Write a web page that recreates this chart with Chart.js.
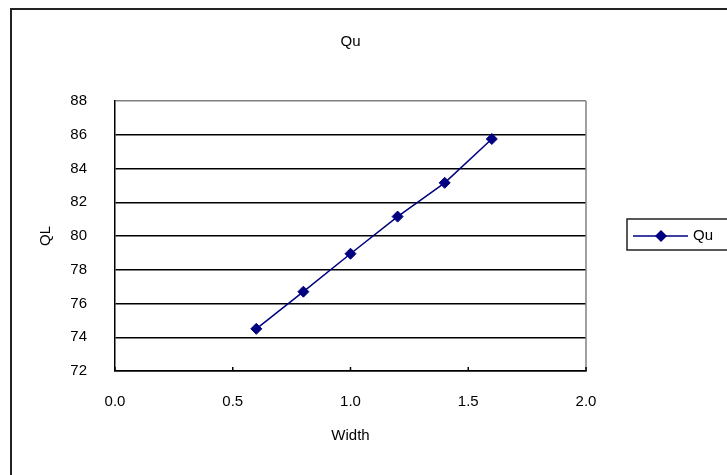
<!DOCTYPE html>
<html>
<head>
<meta charset="utf-8">
<script src="https://cdn.jsdelivr.net/npm/chart.js@4"></script>
<style>
    html, body { margin: 0; padding: 0; background: #fff; }
    #wrap { position: relative; width: 727px; height: 475px; overflow: hidden; }
</style>
</head>
<body>
<div id="wrap"><canvas id="chartCanvas" width="727" height="475"></canvas></div>
<script>
// Data
var widths = [0.6, 0.8, 1.0, 1.2, 1.4, 1.6];
var quValues = [74.5, 76.7, 78.95, 81.15, 83.15, 85.75];
var seriesName = 'Qu';
var chartTitle = 'Qu';
var xTitle = 'Width';
var yTitle = 'QL';

var navy = '#000080';
var fontFamily = '"Liberation Sans", Arial, sans-serif';

// Frame, plot-area edge, inward x ticks and legend box
var decorPlugin = {
    id: 'decor',
    beforeDraw: function(chart) {
        var ctx = chart.ctx;
        ctx.save();
        ctx.fillStyle = '#fff';
        ctx.fillRect(0, 0, chart.width, chart.height);
        ctx.restore();
    },
    afterDraw: function(chart) {
        var ctx = chart.ctx;
        var area = chart.chartArea;
        var xScale = chart.scales.x;
        ctx.save();

        // outer frame
        ctx.strokeStyle = '#222';
        ctx.lineWidth = 2;
        ctx.strokeRect(11, 9, 800, 600);

        // plot area right edge
        ctx.strokeStyle = '#808080';
        ctx.lineWidth = 1.5;
        ctx.beginPath();
        ctx.moveTo(area.right, area.top);
        ctx.lineTo(area.right, area.bottom);
        ctx.stroke();

        // inward tick marks on x axis
        ctx.strokeStyle = '#000';
        ctx.lineWidth = 1.5;
        xScale.ticks.forEach(function(t) {
            var px = xScale.getPixelForValue(t.value);
            ctx.beginPath();
            ctx.moveTo(px, area.bottom);
            ctx.lineTo(px, area.bottom - 4);
            ctx.stroke();
        });

        // legend
        var ds = chart.data.datasets[0];
        ctx.strokeStyle = '#222';
        ctx.lineWidth = 1.5;
        ctx.strokeRect(627, 219, 200, 31);
        ctx.strokeStyle = ds.borderColor;
        ctx.lineWidth = 1.5;
        ctx.beginPath();
        ctx.moveTo(633, 236);
        ctx.lineTo(688, 236);
        ctx.stroke();
        ctx.fillStyle = ds.pointBackgroundColor;
        ctx.beginPath();
        ctx.moveTo(661, 230);
        ctx.lineTo(667, 236);
        ctx.lineTo(661, 242);
        ctx.lineTo(655, 236);
        ctx.closePath();
        ctx.fill();
        ctx.fillStyle = '#000';
        ctx.font = '15px ' + fontFamily;
        ctx.textBaseline = 'middle';
        ctx.textAlign = 'left';
        ctx.fillText(ds.label, 693, 236);
        ctx.restore();
    }
};

var points = widths.map(function(w, i) { return { x: w, y: quValues[i] }; });

var ctx = document.getElementById('chartCanvas').getContext('2d');
var qChart = new Chart(ctx, {
    type: 'scatter',
    data: {
        datasets: [{
            label: seriesName,
            data: points,
            showLine: true,
            borderColor: navy,
            borderWidth: 1.5,
            pointStyle: 'rectRot',
            pointRadius: 5.5,
            pointBackgroundColor: navy,
            pointBorderColor: navy,
            pointBorderWidth: 1
        }]
    },
    options: {
        responsive: false,
        animation: false,
        events: [],
        layout: {
            padding: { left: 0, right: 141, top: 0, bottom: 0 }
        },
        plugins: {
            legend: { display: false },
            tooltip: { enabled: false },
            title: {
                display: true,
                text: chartTitle,
                fullSize: false,
                color: '#000',
                font: { family: fontFamily, size: 15, weight: 'normal' },
                padding: { top: 33, bottom: 50 }
            }
        },
        scales: {
            x: {
                type: 'linear',
                min: 0,
                max: 2,
                afterFit: function(scale) { scale.height = 104; },
                ticks: {
                    stepSize: 0.5,
                    padding: 22,
                    color: '#000',
                    font: { family: fontFamily, size: 15 },
                    callback: function(v) { return v.toFixed(1); }
                },
                grid: { display: false, drawTicks: false },
                border: { display: true, color: '#000', width: 1.5 },
                title: {
                    display: true,
                    text: xTitle,
                    color: '#000',
                    font: { family: fontFamily, size: 15 },
                    padding: { top: 0, bottom: 30 }
                }
            },
            y: {
                min: 72,
                max: 88,
                afterFit: function(scale) { scale.width = 115; },
                ticks: {
                    stepSize: 2,
                    padding: 28,
                    color: '#000',
                    font: { family: fontFamily, size: 15 }
                },
                grid: {
                    drawTicks: false,
                    lineWidth: 1.5,
                    color: function(c) {
                        return c.tick && c.tick.value === 88 ? '#808080' : '#000';
                    }
                },
                border: { display: true, color: '#000', width: 1.5 },
                title: {
                    display: true,
                    text: yTitle,
                    color: '#000',
                    font: { family: fontFamily, size: 15 },
                    padding: { top: 37, bottom: 0 }
                }
            }
        }
    },
    plugins: [decorPlugin]
});
</script>
</body>
</html>
